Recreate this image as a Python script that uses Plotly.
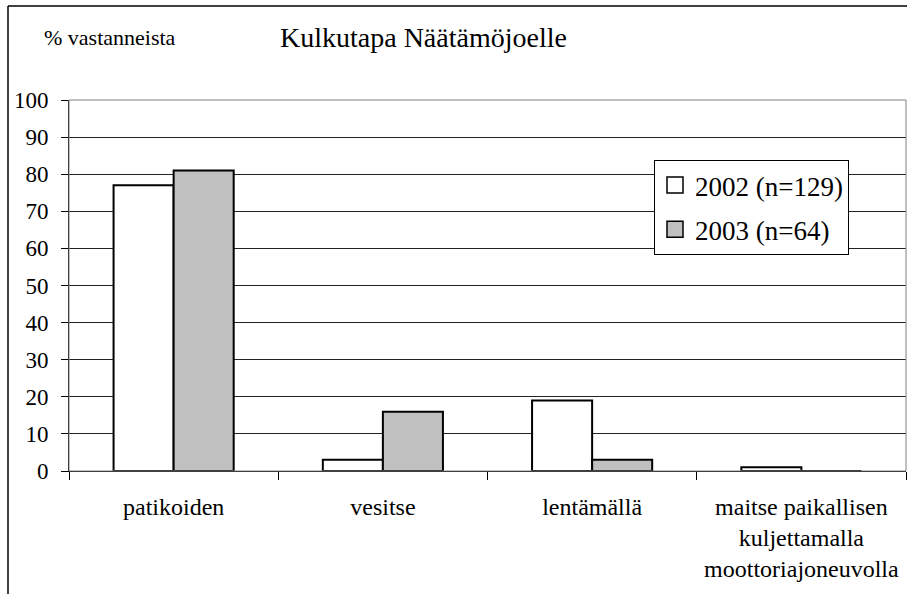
import plotly.graph_objects as go

categories = ["patikoiden", "vesitse", "lentämällä",
              "maitse paikallisen<br>kuljettamalla<br>moottoriajoneuvolla"]
values_2002 = [77, 3, 19, 1]
values_2003 = [81, 16, 3, 0]
series_names = ["2002 (n=129)", "2003 (n=64)"]
y_ticks = list(range(0, 101, 10))

FONT = "Times New Roman, Liberation Serif, Tinos, DejaVu Serif, serif"
W, H = 907, 594
L, R, T, B = 69, 1, 100, 123
pw = W - L - R
ph = H - T - B

def px_x(px):
    return (px - L) / pw

def px_y(py):
    return (H - B - py) / ph

fig = go.Figure()
colors = ["#FFFFFF", "#C0C0C0"]
for name, vals, col in zip(series_names, [values_2002, values_2003], colors):
    fig.add_trace(go.Bar(
        x=categories, y=vals, name=name, showlegend=False,
        marker=dict(color=col, line=dict(color="black", width=2)),
    ))
# legend entries
for i, (name, col) in enumerate(zip(series_names, colors)):
    fig.add_trace(go.Scatter(
        x=[None], y=[None], mode="markers", name=name,
        legendgroup=f"g{i}",
        marker=dict(symbol="square", size=16, color=col,
                    line=dict(color="black", width=1.5)),
    ))

fig.update_layout(
    width=W, height=H,
    margin=dict(l=L, r=R, t=T, b=B),
    paper_bgcolor="white", plot_bgcolor="white",
    barmode="group", bargap=0.426, bargroupgap=0,
    font=dict(family=FONT, color="black", size=23),
    showlegend=True,
    legend=dict(
        x=px_x(654), y=px_y(160), xanchor="left", yanchor="top",
        bordercolor="black", borderwidth=1, bgcolor="white",
        font=dict(family=FONT, size=27, color="black"),
        tracegroupgap=6, traceorder="grouped",
    ),
    xaxis=dict(
        type="category", categoryorder="array", categoryarray=categories,
        showline=True, linecolor="black", linewidth=1,
        ticks="outside", tickson="boundaries", ticklen=8,
        tickcolor="black", tickwidth=1,
        tickfont=dict(family=FONT, size=24, color="black"),
        showgrid=False, ticklabelstandoff=14,
    ),
    yaxis=dict(
        range=[0, 100], tickvals=y_ticks,
        showline=True, linecolor="black", linewidth=1,
        ticks="outside", ticklen=7, tickcolor="black", tickwidth=1,
        tickfont=dict(family=FONT, size=23, color="black"),
        showgrid=True, gridcolor="#222222", gridwidth=1,
        zeroline=False, ticklabelstandoff=8,
    ),
    annotations=[
        dict(text="Kulkutapa Näätämöjoelle", xref="paper", yref="paper",
             x=px_x(423.5), y=px_y(38), xanchor="center", yanchor="middle",
             showarrow=False, font=dict(family=FONT, size=28, color="black")),
        dict(text="% vastanneista", xref="paper", yref="paper",
             x=px_x(42), y=px_y(38), xanchor="left", yanchor="middle",
             showarrow=False, font=dict(family=FONT, size=22, color="black")),
    ],
    shapes=[
        dict(type="line", xref="paper", yref="paper",
             x0=px_x(8), x1=px_x(8), y0=px_y(6), y1=px_y(600),
             line=dict(color="black", width=1.5)),
        dict(type="line", xref="paper", yref="paper",
             x0=px_x(8), x1=px_x(910), y0=px_y(6), y1=px_y(6),
             line=dict(color="black", width=1.5)),
        dict(type="rect", xref="paper", yref="paper",
             x0=0, x1=1, y0=0, y1=1, layer="above",
             line=dict(color="#808080", width=1)),
    ],
)

fig.write_html(
    "out.html",
    config={"displayModeBar": False},
    post_script="document.body.style.margin='0';document.body.style.overflow='hidden';",
)
